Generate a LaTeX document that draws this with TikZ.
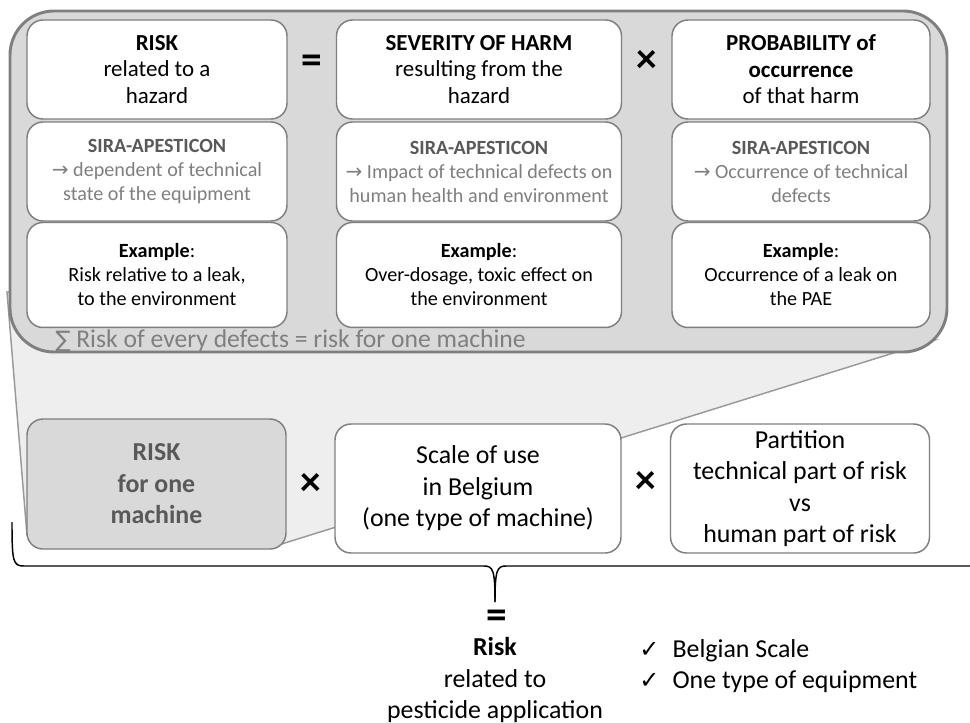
\documentclass[tikz,border=0pt]{standalone}
\usepackage{fontspec}
\setmainfont{Carlito}
\newfontfamily\symfont{DejaVu Sans}
\usepackage{tikz}
\usetikzlibrary{positioning, calc}
\definecolor{darkgrey}{HTML}{595959}
\definecolor{midgrey}{HTML}{7F7F7F}
\definecolor{boxgrey}{HTML}{D9D9D9}
\definecolor{palegrey}{HTML}{EEEEEE}
\definecolor{linegrey}{HTML}{999999}
\newcommand{\hdsize}{\fontsize{17.2}{19.9}\selectfont}
\newcommand{\smsize}{\fontsize{15.1}{18}\selectfont}
\newcommand{\lgsize}{\fontsize{19.4}{23.6}\selectfont}

\begin{document}
\begin{tikzpicture}[x=0.75pt, y=-0.75pt, on grid,
    cell/.style={draw=midgrey, line width=1.1pt, fill=white, rounded corners=12pt,
      align=center, minimum height=74.25pt, inner sep=2pt},
    head/.style={cell, font=\hdsize},
    sira/.style={cell, font=\smsize, text=midgrey},
    example/.style={cell, font=\smsize, minimum height=78.75pt},
    factor/.style={cell, font=\lgsize, minimum height=96.75pt},
    symb/.style={font=\fontsize{31}{32}\selectfont\bfseries, inner sep=0pt},
    brace/.style={draw=black, line width=1.1pt}]
  \useasboundingbox (0,0) rectangle (970,722);

  \filldraw[fill=palegrey, draw=linegrey, line width=1.1pt]
    (7,292) -- (27,535) -- (272,547) -- (935,340) -- cycle;
  \filldraw[fill=boxgrey, draw=midgrey, line width=2.2pt, rounded corners=33pt]
    (10,11) rectangle (947,352);

  \node[head, minimum width=195pt] (risk) at (157,69.5) {\textbf{RISK}\\related to a\\hazard};
  \node[head, minimum width=213.75pt, right=241.5pt of risk] (sev) {\textbf{SEVERITY OF HARM}\\resulting from the\\hazard};
  \node[head, minimum width=193.5pt, right=241.5pt of sev] (prob) {\textbf{PROBABILITY of}\\\textbf{occurrence}\\of that harm};

  \node[sira, minimum width=195pt, below=76.5pt of risk] (riskS) {\textcolor{darkgrey}{\textbf{SIRA-APESTICON}}\\{\symfont\fontsize{15}{18}\selectfont →}~dependent of technical\\state of the equipment};
  \node[sira, minimum width=213.75pt, below=76.5pt of sev] (sevS) {\textcolor{darkgrey}{\textbf{SIRA-APESTICON}}\\{\symfont\fontsize{15}{18}\selectfont →}~Impact of technical defects on\\human health and environment};
  \node[sira, minimum width=193.5pt, below=76.5pt of prob] (probS) {\textcolor{darkgrey}{\textbf{SIRA-APESTICON}}\\{\symfont\fontsize{15}{18}\selectfont →}~Occurrence of technical\\defects};

  \node[example, minimum width=195pt, below=77.6pt of riskS] (riskE) {\textbf{Example}:\\Risk relative to a leak,\\to the environment};
  \node[example, minimum width=213.75pt, below=77.6pt of sevS] (sevE) {\textbf{Example}:\\Over-dosage, toxic effect on\\the environment};
  \node[example, minimum width=193.5pt, below=77.6pt of probS] (probE) {\textbf{Example}:\\Occurrence of a leak on\\the PAE};

  \node[symb] (eqTop) at ($(risk.east)!0.5!(sev.west)+(0,-5)$) {=};
  \node[symb] (timesTop) at ($(sev.east)!0.5!(prob.west)+(0,-8)$) {×};

  \node[anchor=west, font=\fontsize{19.2}{22}\selectfont, text=midgrey, inner sep=0pt] (sum) at (55,341)
    {{\symfont\fontsize{17}{22}\selectfont ∑}~Risk of every defects = risk for one machine};

  \node[factor, fill=boxgrey, text=darkgrey, minimum width=194.25pt, minimum height=97.5pt] (machine) at (156.5,484)
    {\textbf{RISK}\\\textbf{for one}\\\textbf{machine}};
  \node[factor, minimum width=214.5pt] (scale) at (478,488.5) {Scale of use\\in Belgium\\(one type of machine)};
  \node[factor, minimum width=194.25pt, right=241.5pt of scale] (part) {Partition\\technical part of risk\\vs\\human part of risk};

  \node[symb] (timesA) at ($(machine.east)!0.5!(scale.west)+(0,-2)$) {×};
  \node[symb] (timesB) at ($(scale.east)!0.5!(part.west)+(0,-6)$) {×};

  \draw[brace] (12,522) .. controls (12,562) and (13,566) .. (24,566) -- (484,566)
    .. controls (493,566) and (495,570) .. (495,602);
  \draw[brace] (495,602) .. controls (495,570) and (497,566) .. (506,566) -- (980,566);

  \node[symb] (eqBottom) at (497,619) {=};
  \node[align=center, font=\lgsize, inner sep=0pt] (total) at (495,680)
    {\textbf{Risk}\\related to\\pesticide application};
  \node[anchor=west, align=left, font=\lgsize, inner sep=0pt] (checks) at (639,666)
    {\makebox[25pt][l]{\symfont\fontsize{18}{20}\selectfont ✓}Belgian Scale\\
     \makebox[25pt][l]{\symfont\fontsize{18}{20}\selectfont ✓}One type of equipment};
\end{tikzpicture}
\end{document}
